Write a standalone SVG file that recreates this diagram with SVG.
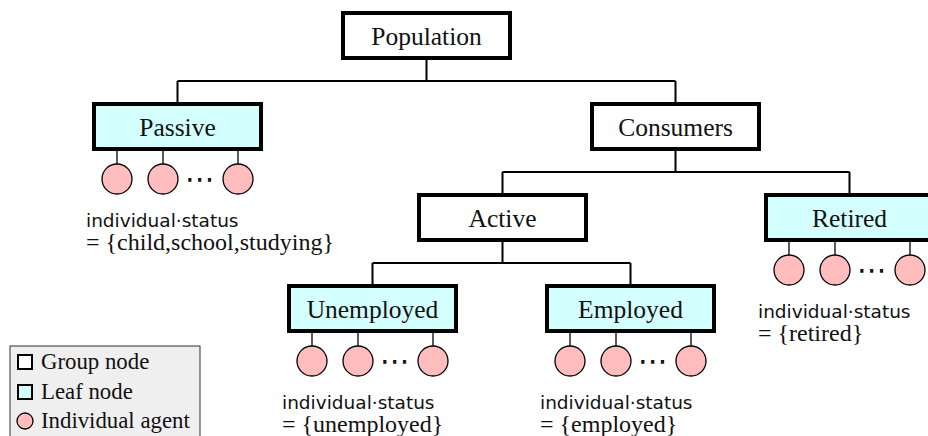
<svg xmlns="http://www.w3.org/2000/svg" width="928" height="436" viewBox="0 0 928 436">
  <style>
    .box { stroke: #000; stroke-width: 4; }
    .group { fill: #ffffff; }
    .leaf { fill: #d4ffff; }
    .label { font-family: 'Liberation Serif', 'Times New Roman', 'DejaVu Serif', serif; font-size: 25.5px; text-anchor: middle; fill: #111; }
    .edge { stroke: #000; stroke-width: 2; fill: none; }
    .stem { stroke: #000; stroke-width: 1.3; }
    .agent { fill: #ffbdbd; stroke: #000; stroke-width: 1.3; }
    .dots { font-family: 'DejaVu Sans', sans-serif; font-size: 30px; text-anchor: middle; fill: #111; }
    .attr { font-family: 'DejaVu Sans', sans-serif; font-size: 18.5px; fill: #111; }
    .val { font-family: 'Liberation Serif', 'Times New Roman', 'DejaVu Serif', serif; font-size: 24px; fill: #111; }
    .legtxt { font-family: 'Liberation Serif', 'Times New Roman', 'DejaVu Serif', serif; font-size: 22.8px; fill: #111; }
  </style>
  <defs>
    <!-- three agents hanging below a leaf box; origin = box outer left / bottom -->
    <g id="agents">
      <line class="stem" x1="25" y1="0" x2="25" y2="13"/>
      <line class="stem" x1="71" y1="0" x2="71" y2="13"/>
      <line class="stem" x1="146" y1="0" x2="146" y2="13"/>
      <circle class="agent" cx="25" cy="28" r="15"/>
      <circle class="agent" cx="71" cy="28" r="15"/>
      <text class="dots" x="108" y="38">⋯</text>
      <circle class="agent" cx="146" cy="28" r="15"/>
    </g>
  </defs>

  <!-- tree connectors -->
  <g id="connectors">
    <path class="edge" d="M426.5 60 V81 M177.5 81 H675.5 M177.5 81 V102 M675.5 81 V102"/>
    <path class="edge" d="M675.5 151 V172 M502.5 172 H849.5 M502.5 172 V193 M849.5 172 V193"/>
    <path class="edge" d="M502.5 242 V263 M372.5 263 H630.5 M372.5 263 V284 M630.5 263 V284"/>
  </g>

  <g id="population">
    <rect class="box group" x="343" y="13" width="167" height="45"/>
    <text class="label" x="426.5" y="45">Population</text>
  </g>

  <g id="passive">
    <rect class="box leaf" x="94" y="104" width="167" height="45"/>
    <text class="label" x="177.5" y="136">Passive</text>
    <use href="#agents" x="92" y="151"/>
    <text class="attr" x="86" y="227">individual·status</text>
    <text class="val" x="86" y="250">= {child,school,studying}</text>
  </g>

  <g id="consumers">
    <rect class="box group" x="592" y="104" width="167" height="45"/>
    <text class="label" x="675.5" y="136">Consumers</text>
  </g>

  <g id="active">
    <rect class="box group" x="419" y="195" width="167" height="45"/>
    <text class="label" x="502.5" y="227">Active</text>
  </g>

  <g id="retired">
    <rect class="box leaf" x="766" y="195" width="167" height="45"/>
    <text class="label" x="849.5" y="227">Retired</text>
    <use href="#agents" x="764" y="242"/>
    <text class="attr" x="758" y="318">individual·status</text>
    <text class="val" x="758" y="341">= {retired}</text>
  </g>

  <g id="unemployed">
    <rect class="box leaf" x="289" y="286" width="167" height="45"/>
    <text class="label" x="372.5" y="318">Unemployed</text>
    <use href="#agents" x="287" y="333"/>
    <text class="attr" x="282" y="409">individual·status</text>
    <text class="val" x="282" y="432">= {unemployed}</text>
  </g>

  <g id="employed">
    <rect class="box leaf" x="547" y="286" width="167" height="45"/>
    <text class="label" x="630.5" y="318">Employed</text>
    <use href="#agents" x="545" y="333"/>
    <text class="attr" x="540" y="409">individual·status</text>
    <text class="val" x="540" y="432">= {employed}</text>
  </g>

  <!-- legend -->
  <g id="legend">
    <rect x="10" y="346" width="190" height="100" fill="#efefef" stroke="#333" stroke-width="1"/>
    <rect x="18" y="355" width="14" height="14" fill="#fff" stroke="#000" stroke-width="2"/>
    <text class="legtxt" x="41" y="369">Group node</text>
    <rect x="18" y="385" width="14" height="14" fill="#d4ffff" stroke="#000" stroke-width="2"/>
    <text class="legtxt" x="41" y="399">Leaf node</text>
    <circle cx="25" cy="421" r="8" fill="#ffbdbd" stroke="#000" stroke-width="1.3"/>
    <text class="legtxt" x="41" y="428">Individual agent</text>
  </g>
</svg>
